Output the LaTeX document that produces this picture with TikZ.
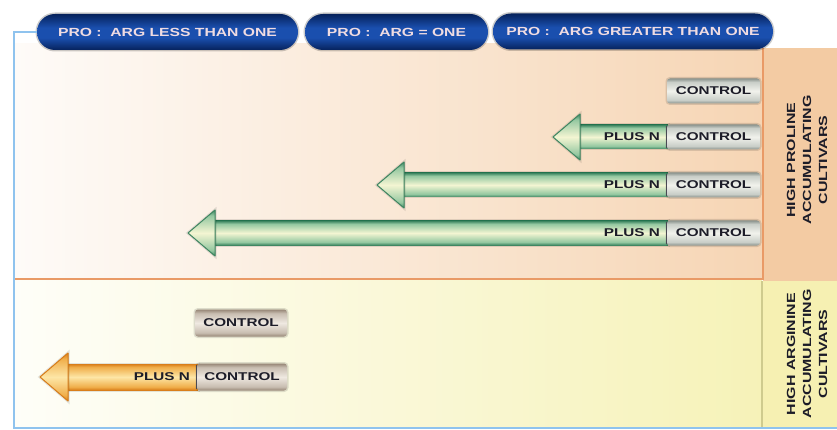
\documentclass[tikz,border=0pt]{standalone}
\usepackage{fontspec}
\newfontfamily\labfont[FakeStretch=1.35]{Liberation Sans}
\newfontfamily\pillfont[FakeStretch=1.33]{Liberation Sans}
\definecolor{pillD}{HTML}{06225C}
\definecolor{pillM}{HTML}{1A4FAE}
\definecolor{pillT}{HTML}{F0DCE2}
\definecolor{gD}{HTML}{3F8762}
\definecolor{gM}{HTML}{93C7A0}
\definecolor{gL}{HTML}{F3F5D2}
\definecolor{oD}{HTML}{D97E1A}
\definecolor{oM}{HTML}{F0AE4A}
\definecolor{oL}{HTML}{FDE6A6}
\definecolor{sD}{HTML}{8A938D}
\definecolor{sM}{HTML}{C9CEC8}
\definecolor{sL}{HTML}{F1F2EC}
\definecolor{tD}{HTML}{978676}
\definecolor{tM}{HTML}{C8BDB0}
\definecolor{tL}{HTML}{EFE9E1}
\definecolor{txt}{HTML}{1C1C28}
\definecolor{upL}{HTML}{FEFBF8}
\definecolor{upR}{HTML}{F6D5B4}
\definecolor{upC}{HTML}{F3CBA3}
\definecolor{loL}{HTML}{FEFEF8}
\definecolor{loR}{HTML}{F6F2B8}
\definecolor{loC}{HTML}{F6F0B2}
\definecolor{orl}{HTML}{E99A66}
\definecolor{oll}{HTML}{CFCB8E}
\definecolor{bll}{HTML}{8FC3EE}
\pgfdeclareverticalshading{greenbar}{100bp}{color(0bp)=(gD); color(25bp)=(gD); color(31bp)=(gM); color(50bp)=(gL); color(69bp)=(gM); color(75bp)=(gD); color(100bp)=(gD)}
\pgfdeclareverticalshading{orangebar}{100bp}{color(0bp)=(oD); color(25bp)=(oD); color(31bp)=(oM); color(50bp)=(oL); color(69bp)=(oM); color(75bp)=(oD); color(100bp)=(oD)}
\pgfdeclareverticalshading{silverbar}{100bp}{color(0bp)=(sD); color(25bp)=(sD); color(32bp)=(sM); color(50bp)=(sL); color(68bp)=(sM); color(75bp)=(sD); color(100bp)=(sD)}
\pgfdeclareverticalshading{tanbar}{100bp}{color(0bp)=(tD); color(25bp)=(tD); color(32bp)=(tM); color(50bp)=(tL); color(68bp)=(tM); color(75bp)=(tD); color(100bp)=(tD)}
\pgfdeclareverticalshading{pillbar}{100bp}{color(0bp)=(pillD); color(25bp)=(pillD); color(42bp)=(pillM); color(56bp)=(pillM); color(75bp)=(pillD); color(100bp)=(pillD)}
\begin{document}
\begin{tikzpicture}[x=1pt,y=-1pt,
  pill/.style={shape=rectangle, rounded corners=18pt, minimum height=36pt, shading=pillbar,
    text=pillT, inner sep=0pt, font=\pillfont\bfseries\fontsize{11.8}{14}\selectfont,
    preaction={draw=black, opacity=0.2, line width=3pt}},
  ctrl/.style={shape=rectangle, rounded corners=3pt, minimum width=93pt, minimum height=25pt,
    shading=silverbar, text=txt, inner sep=0pt, font=\labfont\bfseries\fontsize{11.3}{13}\selectfont,
    preaction={draw=black, opacity=0.12, line width=3pt}},
  ctrltan/.style={ctrl, shading=tanbar},
  lab/.style={text=txt, inner sep=0pt, font=\labfont\bfseries\fontsize{11.3}{13}\selectfont},
  side/.style={text=txt, inner sep=0pt, rotate=90, align=center,
    font=\labfont\bfseries\fontsize{11.8}{16}\selectfont},
  shaftG/.style={shading=greenbar, preaction={draw=black, opacity=0.10, line width=3pt}},
  headG/.style={shading=greenbar, draw=gD, line width=1pt, line join=round,
    preaction={draw=black, opacity=0.10, line width=3pt}},
  shaftO/.style={shading=orangebar, preaction={draw=black, opacity=0.10, line width=3pt}},
  headO/.style={shading=orangebar, draw=oD, line width=1pt, line join=round,
    preaction={draw=black, opacity=0.10, line width=3pt}},
  divline/.style={draw=txt!80, line width=0.9pt},
  blueline/.style={draw=bll, line width=2.5pt},
  orline/.style={draw=orl, line width=2.5pt},
  olline/.style={draw=oll, line width=1.5pt}]
\useasboundingbox (0,0) rectangle (837,430);
\fill[white] (0,0) rectangle (837,430);
% panels
\shade[left color=upL, right color=upR] (15,44) rectangle (763,279);
\fill[upC] (763,48) rectangle (837,281);
\shade[left color=loL, right color=loR] (15,280) rectangle (762,427);
\fill[loC] (763,281) rectangle (837,427);
\draw[orline] (15,279) -- (764,279);
\draw[orline] (763,48) -- (763,280);
\draw[olline] (762,281) -- (762,427);
% pills
\node[pill, minimum width=261pt] (p1) at (167.5,32) {PRO :\ \ ARG LESS THAN ONE};
\node[pill, minimum width=183pt] (p2) at (396.5,32) {PRO :\ \ ARG = ONE};
\node[pill, minimum width=280pt] (p3) at (633,31.5) {PRO :\ \ ARG GREATER THAN ONE};
% blue frame line
\coordinate (bl) at (14,428);
\coordinate (br) at (837,428);
\draw[blueline] (p1.west) -| (bl) -- (br);
% side labels
\node[side] (s1) at (807,160) {HIGH PROLINE\\ACCUMULATING\\CULTIVARS};
\node[side] (s2) at (807,354) {HIGH ARGININE\\ACCUMULATING\\CULTIVARS};
% proline rows
\node[ctrl] (c1) at (713.5,91) {CONTROL};
\foreach \yy/\tip/\n in {137/553/2,185/377/3,233/188/4}{
  \coordinate (t\n) at (\tip,\yy);
  \fill[shaftG] (\tip+25,\yy-12) rectangle (668,\yy+12);
  \filldraw[headG] (t\n) -- ++(27,-23) -- ++(0,46) -- cycle;
  \node[ctrl] (c\n) at (713.5,\yy) {CONTROL};
  \node[lab, anchor=east] (pn\n) at (660,\yy) {PLUS N};
  \draw[divline, shorten <=2pt, shorten >=2pt] (c\n.north west) -- (c\n.south west);
}
% arginine rows
\node[ctrltan, minimum width=92pt, minimum height=27pt] (c5) at (241,323) {CONTROL};
\coordinate (t6) at (40,377);
\fill[shaftO] (66,364) rectangle (198,390);
\filldraw[headO] (t6) -- ++(28,-24) -- ++(0,48) -- cycle;
\node[ctrltan, minimum width=90pt, minimum height=27pt] (c6) at (242,377) {CONTROL};
\node[lab, anchor=east] (pn6) at (190,377) {PLUS N};
\draw[divline, shorten <=2pt, shorten >=2pt] (c6.north west) -- (c6.south west);
\end{tikzpicture}
\end{document}
